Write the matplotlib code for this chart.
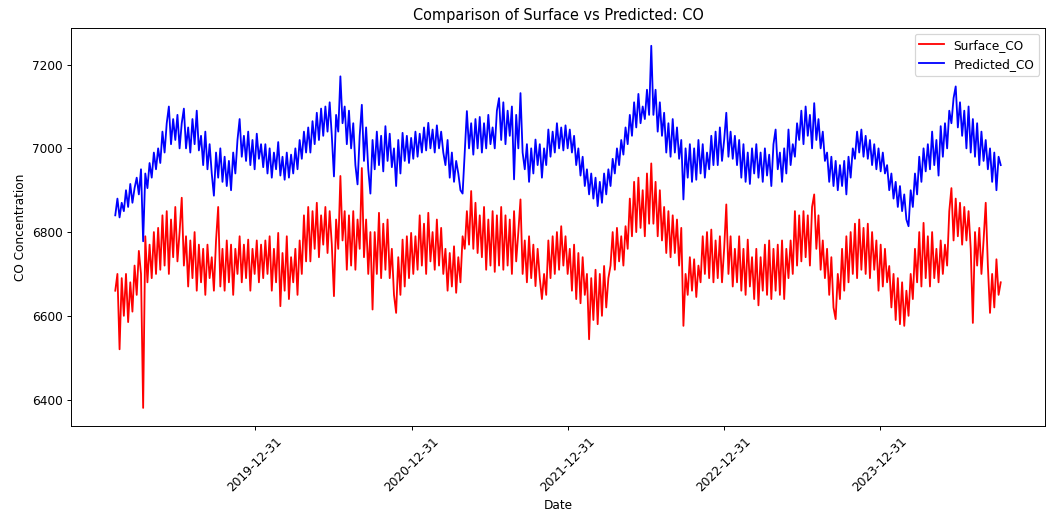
import matplotlib
matplotlib.use("Agg")
import matplotlib.pyplot as plt
import matplotlib.dates as mdates
import pandas as pd

start_date = "2019-02-07"
end_date = "2024-10-09"

predicted_co = [
    6840, 6880, 6835, 6870, 6850, 6900, 6860, 6915, 6870, 6905,
    6930, 6890, 6950, 6778, 6940, 6905, 6965, 6930, 6990, 6950,
    7000, 6965, 7040, 6990, 7060, 7100, 7010, 7070, 7020, 7080,
    7000, 7060, 7095, 7000, 7050, 6990, 7070, 7010, 7090, 6995,
    7030, 6960, 7040, 6950, 7010, 6940, 6887, 6990, 6930, 7000,
    6920, 6980, 6910, 6970, 6900, 6990, 6940, 7020, 7070, 6980,
    7030, 6970, 7040, 6960, 7020, 6950, 7035, 6975, 7010, 6955,
    7010, 6940, 7000, 6930, 6990, 6950, 7015, 6935, 6980, 6925,
    6990, 6930, 6985, 6940, 7000, 6950, 7020, 6975, 7040, 6990,
    7050, 6990, 7065, 7010, 7085, 7020, 7095, 7030, 7100, 7040,
    7110, 7030, 6933, 7080, 7040, 7172, 7060, 7100, 7010, 7090,
    7000, 7060, 6960, 6914, 7030, 7104, 6970, 7050, 6950, 6892,
    7020, 6950, 7040, 6960, 7030, 6945, 7053, 6970, 7035, 6955,
    7000, 6910, 7020, 6940, 7037, 6970, 7030, 6965, 7025, 6975,
    7040, 6980, 7035, 6990, 7050, 6995, 7061, 7000, 7045, 6990,
    7055, 7000, 7040, 6990, 6960, 7020, 6930, 6990, 6920, 6970,
    6940, 6900, 6892, 6990, 7089, 7000, 7060, 6985, 7070, 7000,
    7075, 6990, 7060, 7000, 7080, 7010, 7050, 7000, 7090, 7120,
    7020, 7110, 7010, 7090, 7030, 7100, 6926, 7080, 7000, 7132,
    6990, 6950, 7010, 6920, 7000, 6940, 7021, 6960, 7010, 6930,
    7000, 6960, 7045, 6980, 7040, 6990, 7060, 7000, 7050, 6995,
    7055, 7000, 7045, 6990, 7030, 6960, 7000, 6935, 6980, 6910,
    6950, 6890, 6940, 6880, 6930, 6862, 6920, 6870, 6940, 6890,
    6950, 6910, 6975, 6940, 7000, 6960, 7020, 6985, 7050, 7010,
    7080, 7030, 7110, 7050, 7130, 7060, 7100, 7070, 7140, 7080,
    7245, 7080, 7140, 7040, 7110, 7030, 7085, 6990, 7060, 6980,
    7070, 6990, 7050, 6975, 7020, 6878, 7000, 6930, 7010, 6920,
    7000, 6925, 7020, 6940, 7010, 6930, 6990, 6950, 7030, 6960,
    7040, 6960, 7050, 6970, 7020, 7085, 6980, 7040, 6975, 7030,
    6960, 7020, 6930, 7010, 6920, 6990, 6915, 7000, 6940, 7010,
    6930, 6990, 6920, 7000, 6935, 6985, 6910, 7010, 7045, 6950,
    6990, 6920, 7000, 6940, 7045, 6960, 7010, 6980, 7060, 7020,
    7090, 7010, 7100, 7030, 7080, 7000, 7108, 7020, 7070, 7000,
    7040, 6970, 6990, 6920, 6980, 6910, 6970, 6900, 6960, 6910,
    6970, 6890, 6980, 6930, 7000, 6975, 7040, 6990, 7045, 6980,
    7030, 6975, 7020, 6960, 7010, 6950, 7000, 6945, 6990, 6940,
    6960, 6900, 6940, 6880, 6920, 6860, 6910, 6850, 6890, 6830,
    6814, 6900, 6860, 6940, 6890, 6980, 6920, 7000, 6945, 7010,
    6950, 7040, 6960, 7020, 6935, 7053, 6980, 7060, 7000, 7090,
    7060, 7120, 7148, 7050, 7110, 7030, 7090, 7000, 7100, 6990,
    7070, 6980, 7060, 6960, 7040, 6970, 7020, 6950, 7000, 6920,
    6990, 6900, 6980, 6960,
]

surface_co = [
    6660, 6700, 6520, 6690, 6600, 6700, 6585, 6680, 6610, 6720,
    6650, 6755, 6700, 6380, 6790, 6680, 6770, 6690, 6800, 6700,
    6810, 6710, 6840, 6720, 6850, 6700, 6830, 6740, 6860, 6730,
    6800, 6882, 6720, 6790, 6670, 6780, 6690, 6800, 6660, 6770,
    6680, 6760, 6650, 6770, 6690, 6740, 6660, 6780, 6860, 6670,
    6760, 6660, 6780, 6680, 6770, 6650, 6760, 6700, 6790, 6680,
    6770, 6690, 6782, 6660, 6760, 6700, 6780, 6680, 6770, 6690,
    6780, 6700, 6790, 6660, 6760, 6680, 6798, 6623, 6750, 6660,
    6790, 6640, 6740, 6680, 6760, 6650, 6780, 6700, 6840, 6730,
    6860, 6730, 6850, 6760, 6870, 6740, 6840, 6770, 6860, 6750,
    6850, 6770, 6647, 6830, 6760, 6934, 6780, 6850, 6710, 6840,
    6720, 6850, 6710, 6830, 6760, 6953, 6740, 6830, 6700, 6800,
    6615, 6800, 6700, 6846, 6690, 6820, 6710, 6830, 6690, 6760,
    6650, 6607, 6740, 6650, 6782, 6670, 6790, 6690, 6798, 6700,
    6790, 6710, 6840, 6720, 6820, 6700, 6846, 6730, 6800, 6710,
    6830, 6720, 6810, 6700, 6760, 6660, 6750, 6670, 6766, 6655,
    6740, 6680, 6790, 6760, 6850, 6770, 6898, 6760, 6870, 6750,
    6840, 6740, 6860, 6710, 6830, 6720, 6850, 6705, 6840, 6720,
    6860, 6710, 6840, 6720, 6830, 6700, 6850, 6730, 6800, 6878,
    6700, 6780, 6680, 6790, 6690, 6770, 6671, 6760, 6690, 6640,
    6700, 6650, 6780, 6690, 6790, 6700, 6800, 6710, 6814, 6720,
    6790, 6700, 6760, 6660, 6770, 6640, 6750, 6630, 6740, 6650,
    6700, 6544, 6690, 6590, 6710, 6580, 6700, 6600, 6719, 6620,
    6690, 6720, 6800, 6710, 6810, 6730, 6790, 6720, 6814, 6760,
    6880, 6790, 6920, 6800, 6930, 6810, 6900, 6790, 6940, 6820,
    6964, 6820, 6920, 6790, 6900, 6780, 6860, 6750, 6850, 6740,
    6840, 6750, 6830, 6720, 6810, 6576, 6700, 6650, 6740, 6660,
    6735, 6645, 6720, 6680, 6790, 6700, 6800, 6690, 6806, 6680,
    6780, 6690, 6790, 6680, 6760, 6866, 6700, 6790, 6670, 6760,
    6680, 6790, 6660, 6760, 6650, 6782, 6670, 6740, 6640, 6760,
    6625, 6740, 6660, 6770, 6650, 6780, 6640, 6760, 6660, 6770,
    6650, 6780, 6640, 6760, 6690, 6780, 6700, 6850, 6720, 6840,
    6730, 6850, 6740, 6840, 6720, 6860, 6890, 6760, 6840, 6710,
    6780, 6690, 6760, 6650, 6740, 6620, 6592, 6700, 6640, 6760,
    6660, 6790, 6680, 6800, 6700, 6820, 6690, 6830, 6710, 6810,
    6700, 6820, 6690, 6800, 6710, 6780, 6660, 6770, 6670, 6760,
    6680, 6719, 6620, 6700, 6590, 6690, 6580, 6680, 6576, 6660,
    6600, 6700, 6640, 6760, 6680, 6800, 6670, 6822, 6690, 6790,
    6670, 6800, 6690, 6760, 6680, 6780, 6700, 6770, 6720, 6850,
    6905, 6780, 6880, 6790, 6870, 6770, 6860, 6780, 6850, 6760,
    6583, 6800, 6720, 6810, 6700, 6780, 6870, 6720, 6607, 6700,
    6620, 6735, 6650, 6680,
]

dates_pred = pd.date_range(start_date, end_date, periods=len(predicted_co))
dates_surf = pd.date_range(start_date, end_date, periods=len(surface_co))

DPI = 87.25
fig = plt.figure(figsize=(1047 / DPI, 514 / DPI), dpi=DPI)
ax = fig.add_axes([71 / 1047, 88 / 514, (1045 - 71) / 1047, (426 - 27.7) / 514])

ax.plot(dates_surf, surface_co, color="red", label="Surface_CO", linewidth=1.5)
ax.plot(dates_pred, predicted_co, color="blue", label="Predicted_CO", linewidth=1.5)

ticks = pd.date_range(start_date, end_date, freq="YE")
ax.set_xticks(ticks)
ax.xaxis.set_major_formatter(mdates.DateFormatter("%Y-%m-%d"))
plt.setp(ax.get_xticklabels(), rotation=45)

ax.set_yticks([6400, 6600, 6800, 7000, 7200])
ax.set_title("Comparison of Surface vs Predicted: CO", fontsize=12)
ax.set_xlabel("Date")
ax.set_ylabel("CO Concentration")
ax.legend(loc="upper right")

fig.savefig("out.png", dpi=DPI)
